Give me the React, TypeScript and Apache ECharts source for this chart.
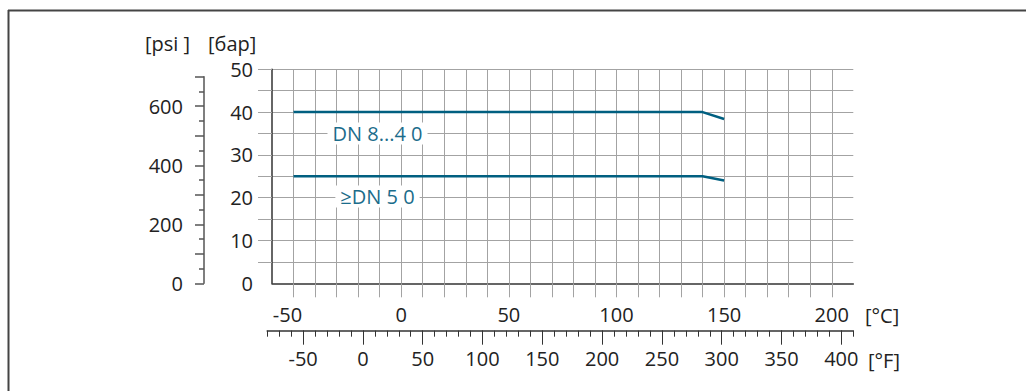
import React, { useEffect, useRef } from "react";
import * as echarts from "echarts";

// ---- data ----
const dn8to40: [number, number][] = [[-50, 40], [140, 40], [150, 38.4]];
const dn50: [number, number][] = [[-50, 25], [140, 25], [150, 24]];
const curveNames = ["DN 8...4 0", "≥DN 5 0"];
const curveLabelAt: [number, number][] = [[-11, 35], [-11, 20.3]];
const celsiusTickValues = [-50, -40, -30, -20, -10, 0, 10, 20, 30, 40, 50, 60, 70, 80, 90, 100, 110, 120, 130, 140, 150, 160, 170, 180, 190, 200];
const celsiusLabelValues = [-50, 0, 50, 100, 150, 200];
const barTickValues = [5, 10, 15, 20, 25, 30, 35, 40, 45, 50];
const barLabelValues = [0, 10, 20, 30, 40, 50];
const psiLabelValues = [0, 200, 400, 600];
const fahrenheitMajorValues = [-50, 0, 50, 100, 150, 200, 250, 300, 350, 400];

// ---- geometry ----
const PLOT_LEFT = 272;
const PLOT_TOP = 69.3;
const PLOT_W = 581.3;
const PLOT_H = 214;
const C_MIN = -60;
const C_MAX = 210;
const BAR_MAX = 50;
const PSI_PER_BAR = 14.5038;
const PSI_MAX = 700;
const F_MIN = -80;
const F_MAX = 410;

const pxPerC = PLOT_W / (C_MAX - C_MIN);
const psiH = (PSI_MAX / PSI_PER_BAR) * (PLOT_H / BAR_MAX);
const psiTop = PLOT_TOP + PLOT_H - psiH;
const fLeft = PLOT_LEFT + ((F_MIN - 32) / 1.8 - C_MIN) * pxPerC;
const fWidth = ((F_MAX - F_MIN) / 1.8) * pxPerC;
const F_AXIS_Y = 330.7;

const FONT = "'Open Sans', 'Noto Sans', sans-serif";
const TXT = "#222";
const GRID = "#a3a3a3";
const DARK = "#333";
const CURVE = "#005f80";
const CURVE_TXT = "#1b6c8b";

export default function App() {
  const ref = useRef<HTMLDivElement>(null);
  useEffect(() => {
    if (!ref.current) return;
    const chart = echarts.init(ref.current, undefined, { renderer: "svg" });
    const labelStyle = { fontSize: 20, color: TXT, fontFamily: FONT };
    const option: any = {
      animation: false,
      textStyle: { fontFamily: FONT },
      grid: [
        { left: PLOT_LEFT, top: PLOT_TOP, width: PLOT_W, height: PLOT_H },
        { left: 204, top: psiTop, width: 1, height: psiH },
        { left: fLeft, top: F_AXIS_Y - 30, width: fWidth, height: 30 },
        { left: fLeft, top: F_AXIS_Y - 30, width: fWidth, height: 30 },
      ],
      xAxis: [
        {
          gridIndex: 0, type: "value", min: C_MIN, max: C_MAX, interval: 10,
          axisLine: { show: true, onZero: false, lineStyle: { color: DARK, width: 1.5 } },
          axisTick: { show: true, customValues: celsiusTickValues, length: 14, lineStyle: { color: GRID, width: 1 } },
          axisLabel: {
            ...labelStyle, customValues: celsiusLabelValues, margin: 21,
            formatter: (v: number) => (v < 0 ? "{n|" + v + "}" : String(v)),
            rich: { n: { ...labelStyle, padding: [0, 12, 0, 0] } },
          },
          splitLine: { show: true, lineStyle: { color: GRID, width: 1 } },
        },
        { gridIndex: 1, type: "value", show: false },
        {
          gridIndex: 2, type: "value", min: F_MIN, max: F_MAX, interval: 10,
          axisLine: { show: true, onZero: false, lineStyle: { color: DARK, width: 1.5 } },
          axisTick: { show: true, length: 6, lineStyle: { color: DARK, width: 1 } },
          axisLabel: { show: false },
          splitLine: { show: false },
        },
        {
          gridIndex: 3, type: "value", min: F_MIN, max: F_MAX, interval: 10,
          axisLine: { show: false, onZero: false },
          axisTick: { show: true, customValues: fahrenheitMajorValues, length: 14, lineStyle: { color: DARK, width: 1 } },
          axisLabel: { ...labelStyle, customValues: fahrenheitMajorValues, margin: 18 },
          splitLine: { show: false },
        },
      ],
      yAxis: [
        {
          gridIndex: 0, type: "value", min: 0, max: BAR_MAX, interval: 5,
          axisLine: { show: true, onZero: false, lineStyle: { color: DARK, width: 1.5 } },
          axisTick: { show: true, customValues: barTickValues, length: 14, lineStyle: { color: GRID, width: 1 } },
          axisLabel: { ...labelStyle, customValues: barLabelValues, margin: 19, padding: [4, 0, 0, 0] },
          splitLine: { show: true, lineStyle: { color: GRID, width: 1 } },
        },
        {
          gridIndex: 1, type: "value", min: 0, max: PSI_MAX, interval: 100,
          axisLine: { show: true, onZero: false, lineStyle: { color: "#555", width: 1.5 } },
          axisTick: { show: true, length: 9, lineStyle: { color: "#555", width: 1.5 } },
          minorTick: { show: true, splitNumber: 2, length: 5, lineStyle: { color: "#555", width: 1.5 } },
          axisLabel: { ...labelStyle, customValues: psiLabelValues, margin: 21 },
          splitLine: { show: false },
          minorSplitLine: { show: false },
        },
        { gridIndex: 2, type: "value", show: false },
        { gridIndex: 3, type: "value", show: false },
      ],
      series: [dn8to40, dn50].map((data, i) => ({
        type: "line",
        xAxisIndex: 0,
        yAxisIndex: 0,
        data,
        symbol: "none",
        lineStyle: { color: CURVE, width: 2.5 },
        markPoint: {
          symbol: "circle",
          symbolSize: 1,
          itemStyle: { color: "rgba(0,0,0,0)" },
          data: [{ coord: curveLabelAt[i] }],
          label: {
            show: true,
            position: "inside",
            formatter: curveNames[i],
            fontSize: 20,
            fontFamily: FONT,
            color: CURVE_TXT,
            backgroundColor: "#fff",
            padding: [1, 5],
          },
        },
      })),
      graphic: [
        { type: "line", shape: { x1: 8, y1: 10.5, x2: 1026, y2: 10.5 }, style: { stroke: "#444", lineWidth: 2 } },
        { type: "line", shape: { x1: 8.5, y1: 10, x2: 8.5, y2: 391 }, style: { stroke: "#444", lineWidth: 2 } },
        { type: "text", x: 145, y: 43, style: { text: "[psi ]", fontSize: 20, fontFamily: FONT, fill: TXT, verticalAlign: "middle" } },
        { type: "text", x: 208, y: 43, style: { text: "[бар]", fontSize: 20, fontFamily: FONT, fill: TXT, verticalAlign: "middle" } },
        { type: "text", x: 865, y: 315, style: { text: "[°C]", fontSize: 20, fontFamily: FONT, fill: TXT, verticalAlign: "middle" } },
        { type: "text", x: 868, y: 360, style: { text: "[°F]", fontSize: 20, fontFamily: FONT, fill: TXT, verticalAlign: "middle" } },
      ],
    };
    chart.setOption(option);
    return () => chart.dispose();
  }, []);
  return (
    <div
      ref={ref}
      style={{ position: "fixed", left: 0, top: 0, width: 1026, height: 391, background: "#fff" }}
    />
  );
}
